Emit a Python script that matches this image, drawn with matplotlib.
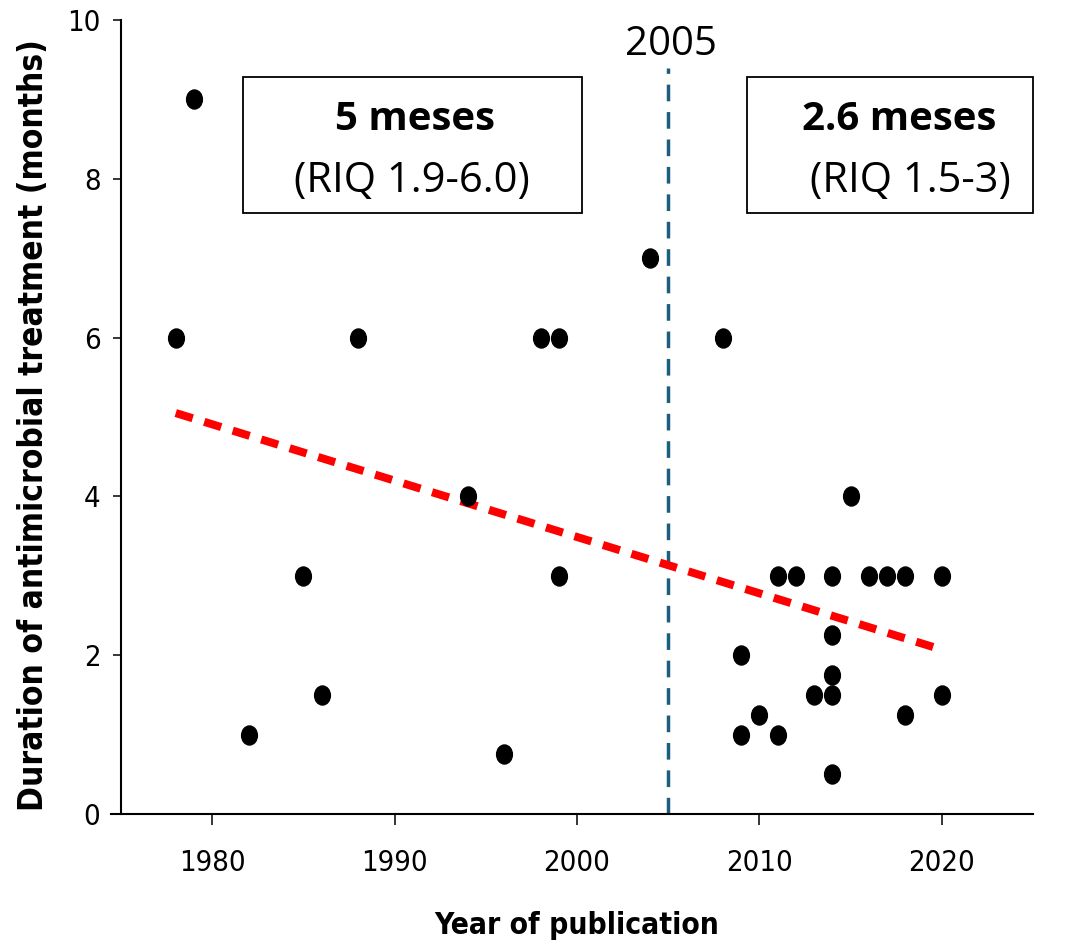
import matplotlib
matplotlib.use("Agg")
import matplotlib.pyplot as plt
from matplotlib import font_manager
from matplotlib.path import Path
from matplotlib.patches import Rectangle
from matplotlib.transforms import Affine2D

# Data
years = [1978, 1979, 1982, 1985, 1986, 1988, 1994, 1996, 1998, 1999, 1999,
         2004, 2008, 2009, 2009, 2010, 2011, 2011, 2012, 2013, 2014, 2014,
         2014, 2014, 2014, 2015, 2016, 2017, 2018, 2018, 2020, 2020]
months = [6, 9, 1, 3, 1.5, 6, 4, 0.75, 6, 6, 3,
          7, 6, 2, 1, 1.25, 3, 1, 3, 1.5, 3, 2.25,
          1.75, 1.5, 0.5, 4, 3, 3, 3, 1.25, 3, 1.5]

trend_years = [1978, 2020]
trend_months = [5.05, 2.07]

cut_year = 2005
box_titles = ["5 meses", "2.6 meses"]
box_subs = ["(RIQ 1.9-6.0)", "(RIQ 1.5-3)"]

# - Pick a narrow sans if one is there
names = {(f.name, f.stretch) for f in font_manager.fontManager.ttflist}
if any(n == 'Liberation Sans Narrow' for n, s in names):
    narrow = dict(family=['Liberation Sans Narrow', 'DejaVu Sans'])
elif any(n == 'DejaVu Sans' and s == 'condensed' for n, s in names):
    narrow = dict(family=['DejaVu Sans'], stretch='condensed')
else:
    narrow = dict(family=['Liberation Sans', 'DejaVu Sans'])
calib = ['Open Sans', 'DejaVu Sans']

fig = plt.figure(figsize=(10.74, 9.44), dpi=100)
ax = fig.add_axes([0.1127, 0.1377, 0.8491, 0.8411])

# - Ellipse marker (points look slightly taller than wide)
ell = Path.unit_circle().transformed(Affine2D().scale(0.83, 1.0))

# - Trend line
ax.plot(trend_years, trend_months, color='#ff0000', lw=5.8,
        dashes=(2.2, 1.5), solid_capstyle='butt', dash_capstyle='butt', zorder=2)

# - Cut-off line
ax.plot([cut_year, cut_year], [0, 9.4], color='#1b5e80', lw=2.5,
        dashes=(4.8, 3.1), dash_capstyle='butt', zorder=1, clip_on=False)
ax.text(cut_year + 0.15, 9.69, str(cut_year), ha='center', va='center',
        fontsize=29, family=calib)

# - Points
ax.plot(years, months, linestyle='none', marker=ell, markersize=13.7,
        color='black', zorder=3)

# - Summary boxes (box edges, title centre, subtitle centre)
box_x = [(1981.7, 2000.27), (2009.3, 2025.0)]
title_x = [1991.1, 2017.65]
sub_x = [1990.95, 2018.3]
for (x0, x1), xt, xs, t1, t2 in zip(box_x, title_x, sub_x, box_titles, box_subs):
    ax.add_patch(Rectangle((x0, 7.57), x1 - x0, 9.28 - 7.57, fill=False,
                           edgecolor='black', lw=1.3, clip_on=False, zorder=4))
    ax.text(xt, 8.75, t1, ha='center', va='center', fontsize=29,
            fontweight='bold', family=calib)
    ax.text(xs, 7.97, t2, ha='center', va='center', fontsize=30, family=calib)

ax.set_xlim(1975, 2025)
ax.set_ylim(0, 10)
ax.set_xticks([1980, 1990, 2000, 2010, 2020])
ax.set_yticks([0, 2, 4, 6, 8, 10])

ax.spines['top'].set_visible(False)
ax.spines['right'].set_visible(False)
ax.spines['left'].set_linewidth(1.5)
ax.spines['bottom'].set_linewidth(1.5)
ax.spines['bottom'].set_bounds(1974.45, 2025)

ax.tick_params(axis='x', length=8, width=1.1, pad=17)
ax.tick_params(axis='y', length=5.8, width=1.1, pad=9)
for lab in ax.get_xticklabels() + ax.get_yticklabels():
    lab.set(**narrow)
    lab.set_fontsize(21)

ax.set_xlabel("Year of publication", fontsize=21.5, fontweight='bold',
              labelpad=25, **narrow)
ax.set_ylabel("Duration of antimicrobial treatment (months)", fontsize=24,
              fontweight='bold', labelpad=12, y=0.49, **narrow)

fig.savefig("out.png", dpi=100)
